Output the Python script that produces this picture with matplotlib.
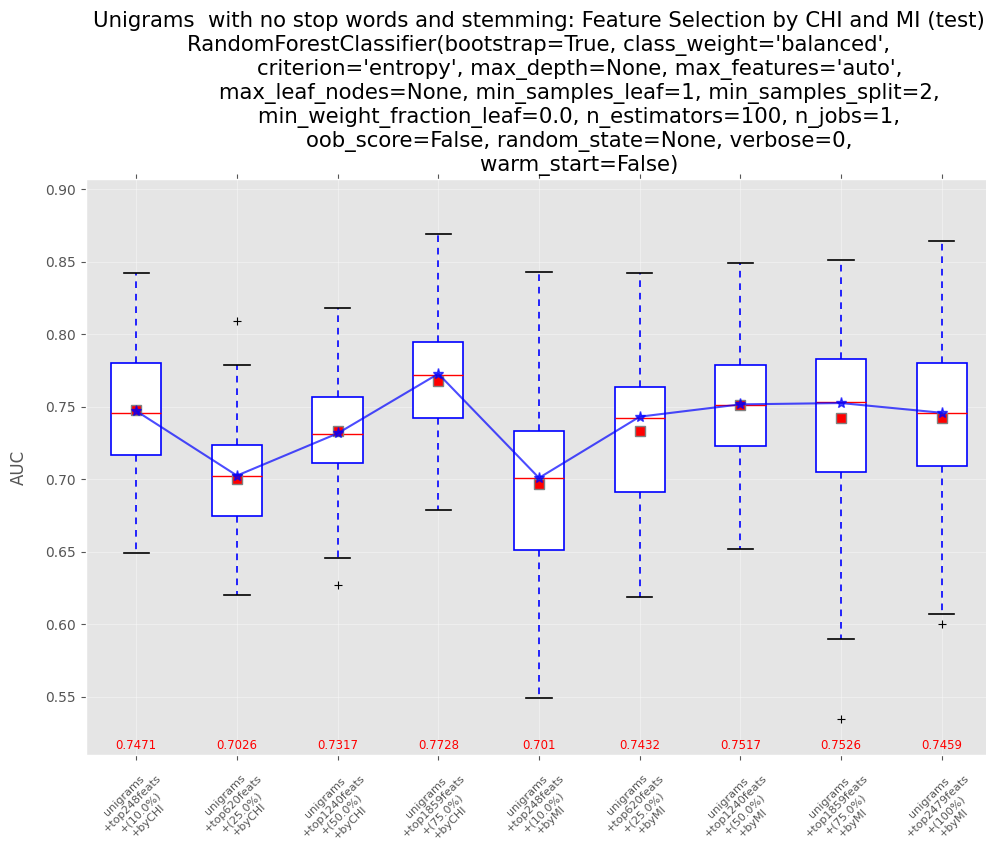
import matplotlib
matplotlib.use('Agg')
import matplotlib.pyplot as plt
import matplotlib.transforms as mtransforms

plt.style.use('ggplot')

# box statistics (AUC)
q1 = [0.717, 0.675, 0.711, 0.742, 0.651, 0.691, 0.723, 0.705, 0.709]
medians = [0.746, 0.702, 0.731, 0.772, 0.701, 0.742, 0.751, 0.753, 0.746]
q3 = [0.780, 0.724, 0.757, 0.795, 0.733, 0.764, 0.779, 0.783, 0.780]
whis_lo = [0.649, 0.620, 0.646, 0.679, 0.549, 0.619, 0.652, 0.590, 0.607]
whis_hi = [0.842, 0.779, 0.818, 0.869, 0.843, 0.842, 0.849, 0.851, 0.864]
fliers = [[], [0.809], [0.627], [], [], [], [], [0.535], [0.600]]
box_means = [0.748, 0.700, 0.733, 0.768, 0.697, 0.733, 0.751, 0.742, 0.742]
mean_auc = [0.7471, 0.7026, 0.7317, 0.7728, 0.701, 0.7432, 0.7517, 0.7526, 0.7459]

# tick label parts
n_feats = [248, 620, 1240, 1859, 248, 620, 1240, 1859, 2479]
percents = ['10.0%', '25.0%', '50.0%', '75.0%', '10.0%', '25.0%', '50.0%', '75.0%', '100%']
methods = ['CHI', 'CHI', 'CHI', 'CHI', 'MI', 'MI', 'MI', 'MI', 'MI']

tick_labels = ['unigrams\n+top%dfeats\n+(%s)\n+by%s' % (f, p, m)
               for f, p, m in zip(n_feats, percents, methods)]

title = ("Unigrams  with no stop words and stemming: Feature Selection by CHI and MI (test)\n"
         "RandomForestClassifier(bootstrap=True, class_weight='balanced',\n"
         "            criterion='entropy', max_depth=None, max_features='auto',\n"
         "            max_leaf_nodes=None, min_samples_leaf=1, min_samples_split=2,\n"
         "            min_weight_fraction_leaf=0.0, n_estimators=100, n_jobs=1,\n"
         "            oob_score=False, random_state=None, verbose=0,\n"
         "            warm_start=False)")

positions = list(range(1, len(medians) + 1))
stats = []
for i in range(len(medians)):
    stats.append({'q1': q1[i], 'med': medians[i], 'q3': q3[i],
                  'whislo': whis_lo[i], 'whishi': whis_hi[i],
                  'fliers': fliers[i], 'mean': box_means[i]})

fig = plt.figure(figsize=(9.87, 8.49), dpi=100)
ax = fig.add_axes([0.0871, 0.1107, 0.918, 0.6784])
ax.grid(True, color='white', alpha=0.35, linewidth=0.8)

ax.bxp(stats, positions=positions, widths=0.5, patch_artist=True, showmeans=True,
       boxprops=dict(facecolor='white', edgecolor='blue', linewidth=1.2),
       whiskerprops=dict(color='blue', linewidth=1.2, linestyle=(0, (4, 3.5))),
       capprops=dict(color='black', linewidth=1.2),
       medianprops=dict(color='red', linewidth=1.0),
       flierprops=dict(marker='+', markeredgecolor='black', markersize=6,
                       markeredgewidth=0.8),
       meanprops=dict(marker='s', markerfacecolor='red', markeredgecolor='gray',
                      markersize=6.5))

ax.plot(positions, mean_auc, color='blue', alpha=0.7, linewidth=1.5,
        marker='*', markersize=8, zorder=5)

trans = mtransforms.blended_transform_factory(ax.transData, ax.transAxes)
for x, v in zip(positions, mean_auc):
    ax.text(x, 0.017, str(v), transform=trans, color='red', fontsize=8.5,
            ha='center', va='center')

ax.set_xlim(0.5, 9.5)
ax.set_ylim(0.510, 0.907)
ax.set_yticks([0.55, 0.60, 0.65, 0.70, 0.75, 0.80, 0.85, 0.90])
ax.set_xticks(positions)
ax.set_xticklabels(tick_labels, rotation=45, fontsize=8)
ax.tick_params(axis='x', top=True)
ax.tick_params(axis='y', labelsize=10)
ax.set_ylabel('AUC', fontsize=12)
ax.yaxis.set_label_coords(-0.064, 0.5)
ax.set_title(title, fontsize=15.3, color='black', linespacing=1.19)

fig.savefig('out.png', dpi=100)
